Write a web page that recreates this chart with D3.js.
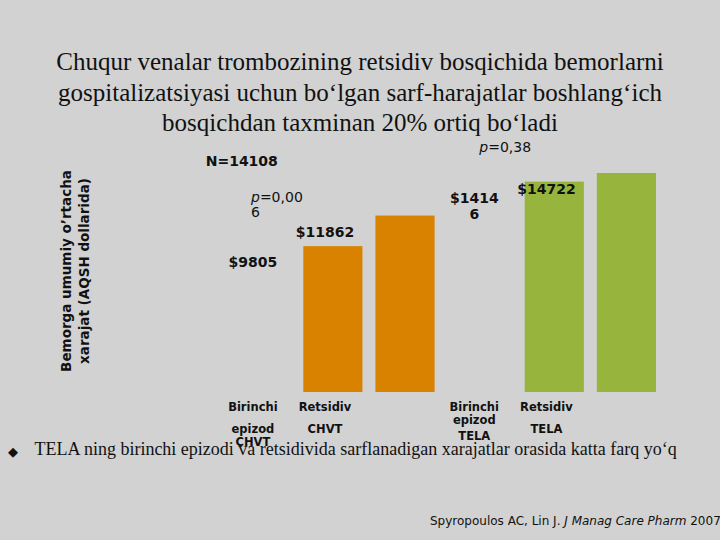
<!DOCTYPE html>
<html>
<head>
<meta charset="utf-8">
<script src="https://cdn.jsdelivr.net/npm/d3@7"></script>
<style>
  html, body { margin: 0; padding: 0; background: #d2d2d2; }
  svg { display: block; }
</style>
</head>
<body>
<div id="chart"></div>
<script>
// ---- data ----
const titleLines = [
  "Chuqur venalar trombozining retsidiv bosqichida bemorlarni",
  "gospitalizatsiyasi uchun bo\u2018lgan sarf-harajatlar boshlang\u2018ich",
  "bosqichdan taxminan 20% ortiq bo\u2018ladi"
];
const groups = ["CHVT", "TELA"];
const episodes = ["Birinchi epizod", "Retsidiv"];
const chvtCosts = [9805, 11862];
const telaCosts = [14146, 14722];
const valueLabelLines = [["$9805"], ["$11862"], ["$1414", "6"], ["$14722"]];
const categoryLabelLines = [
  ["Birinchi", "epizod", "CHVT"],
  ["Retsidiv", "CHVT"],
  ["Birinchi", "epizod", "TELA"],
  ["Retsidiv", "TELA"]
];
const yAxisTitle = ["Bemorga umumiy o\u2019rtacha", "xarajat (AQSH dollarida)"];
const sampleNote = "N=14108";
const pChvt = ["0,00", "6"];
const pTela = "0,38";
const bulletText = "TELA ning birinchi epizodi va retsidivida sarflanadigan xarajatlar orasida katta farq yo\u2018q";
const citation = { authors: "Spyropoulos AC, Lin J. ", journal: "J Manag Care Pharm", year: " 2007" };

// ---- build table ----
const costs = { CHVT: chvtCosts, TELA: telaCosts };
const rows = [];
groups.forEach((g, gi) => episodes.forEach((e, ei) => {
  rows.push({ group: g, episode: e, value: costs[g][ei], idx: gi * 2 + ei });
}));

const W = 720, H = 540;
const svg = d3.select("#chart").append("svg").attr("width", W).attr("height", H);
svg.append("rect").attr("width", W).attr("height", H).attr("fill", "#d2d2d2");

const serif = "'Liberation Serif', 'Times New Roman', serif";
const sans = "'DejaVu Sans', Verdana, sans-serif";

// title
svg.append("g").selectAll("text").data(titleLines).join("text")
  .attr("x", 360).attr("y", (d, i) => 70 + i * 30.5)
  .attr("text-anchor", "middle")
  .attr("font-family", serif).attr("font-size", 25).attr("fill", "#111")
  .text(d => d);

// scales
const y = d3.scaleLinear().domain([0, 16000]).range([392, 154]);
const xGroup = d3.scaleBand().domain(groups).range([303.3, 656]).paddingInner(0.407).paddingOuter(0);
const xInner = d3.scaleBand().domain(episodes).range([0, xGroup.bandwidth()]).paddingInner(0.18).paddingOuter(0);
const colors = d3.scaleOrdinal().domain(groups).range(["#d98200", "#97b53d"]);
const barCenter = d => xGroup(d.group) + xInner(d.episode) + xInner.bandwidth() / 2;
const labelX = d => barCenter(d) - 80;

// bars
svg.append("g").selectAll("rect").data(rows).join("rect")
  .attr("x", d => xGroup(d.group) + xInner(d.episode))
  .attr("width", xInner.bandwidth())
  .attr("y", d => y(d.value))
  .attr("height", d => y(0) - y(d.value))
  .attr("fill", d => colors(d.group));

// value labels
const vl = svg.append("g").selectAll("text").data(rows).join("text")
  .attr("text-anchor", "middle")
  .attr("font-family", sans).attr("font-weight", "bold").attr("font-size", 14).attr("fill", "#111");
vl.each(function(d) {
  const t = d3.select(this);
  valueLabelLines[d.idx].forEach((line, li) => {
    t.append("tspan").attr("x", labelX(d)).attr("y", y(d.value) + 21 + li * 16.5).text(line);
  });
});

// category labels
const lineOffsets = [[0, 22.3, 35.6], [0, 22.3], [0, 13.3, 29.3], [0, 22.3]];
const cl = svg.append("g").selectAll("text").data(rows).join("text")
  .attr("text-anchor", "middle")
  .attr("font-family", sans).attr("font-weight", "bold").attr("font-size", 11.5).attr("fill", "#111");
cl.each(function(d) {
  const t = d3.select(this);
  categoryLabelLines[d.idx].forEach((line, li) => {
    t.append("tspan").attr("x", labelX(d)).attr("y", 410.7 + lineOffsets[d.idx][li]).text(line);
  });
});

// y axis title
svg.append("g").attr("transform", "translate(0,271) rotate(-90)")
  .selectAll("text").data(yAxisTitle).join("text")
  .attr("x", 0).attr("y", (d, i) => 71 + i * 18)
  .attr("text-anchor", "middle")
  .attr("font-family", sans).attr("font-weight", "bold").attr("font-size", 13.5).attr("fill", "#111")
  .text(d => d);

// annotations
svg.append("text").attr("x", 205.7).attr("y", 166)
  .attr("font-family", sans).attr("font-weight", "bold").attr("font-size", 14).attr("fill", "#111")
  .text(sampleNote);

const p1 = svg.append("text").attr("font-family", sans).attr("font-size", 14).attr("fill", "#111");
p1.append("tspan").attr("x", 251).attr("y", 201.7).attr("font-style", "italic").text("p");
p1.append("tspan").text("=" + pChvt[0]);
p1.append("tspan").attr("x", 251).attr("y", 217.3).text(pChvt[1]);

const p2 = svg.append("text").attr("x", 479.3).attr("y", 151.7)
  .attr("font-family", sans).attr("font-size", 14).attr("fill", "#111");
p2.append("tspan").attr("font-style", "italic").text("p");
p2.append("tspan").text("=" + pTela);

// bullet
svg.append("text").attr("x", 8).attr("y", 456)
  .attr("font-family", sans).attr("font-size", 13).attr("fill", "#111").text("\u25C6");
svg.append("text").attr("x", 34.4).attr("y", 455.3)
  .attr("font-family", serif).attr("font-size", 18).attr("fill", "#111")
  .text(bulletText);

// citation
const ct = svg.append("text").attr("x", 430).attr("y", 525)
  .attr("font-family", sans).attr("font-size", 12).attr("fill", "#111");
ct.append("tspan").text(citation.authors);
ct.append("tspan").attr("font-style", "italic").text(citation.journal);
ct.append("tspan").text(citation.year);
</script>
</body>
</html>
